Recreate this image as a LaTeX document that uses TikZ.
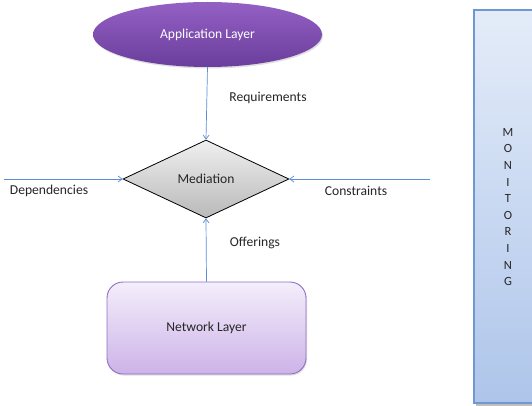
\documentclass[tikz,border=0pt]{standalone}
\usepackage{fontspec}
\setmainfont{Carlito}
\usetikzlibrary{shapes.geometric,arrows.meta,shadows}
\definecolor{linkblue}{HTML}{5B8ED6}
\definecolor{apptop}{HTML}{9460C4}
\definecolor{appbot}{HTML}{6A3E9C}
\definecolor{nettop}{HTML}{F4EEFB}
\definecolor{netbot}{HTML}{CCB3E8}
\definecolor{netline}{HTML}{8F6FC2}
\definecolor{montop}{HTML}{E4ECF9}
\definecolor{monbot}{HTML}{AEC5EA}
\definecolor{monline}{HTML}{6F97D2}
\definecolor{txt}{HTML}{262626}
\tikzset{
  every node/.style={font=\fontsize{13.6}{16}\selectfont, text=txt},
  link/.style={draw=linkblue, line width=0.7pt, -{Straight Barb[length=4pt,width=6pt]}},
  layerapp/.style={ellipse, minimum width=229pt, minimum height=65pt, inner sep=0pt, draw=none,
    top color=apptop, bottom color=appbot, text=white,
    drop shadow={opacity=0.25, shadow xshift=1pt, shadow yshift=-1.5pt}},
  layernet/.style={rectangle, rounded corners=16pt, minimum width=199pt, minimum height=92pt,
    draw=netline, line width=0.9pt, top color=nettop, bottom color=netbot,
    drop shadow={opacity=0.25, shadow xshift=1pt, shadow yshift=-1.5pt}},
  mediator/.style={diamond, minimum width=166pt, minimum height=78pt, aspect=2.13, inner sep=0pt,
    draw=black, line width=0.8pt, top color=gray!12, bottom color=gray!55},
  edgelabel/.style={inner sep=1pt}
}
\begin{document}
\begin{tikzpicture}[x=1pt,y=-1pt]
  \clip (0,0) rectangle (532,406);
  \fill[white] (0,0) rectangle (532,406);

  % monitoring column on the right
  \fill[black!25] (476,12) rectangle (540,406);
  \draw[monline, line width=1.2pt, top color=montop, bottom color=monbot]
    (474,10) rectangle (545,403);
  \node[align=center, font=\fontsize{12.5}{16.6}\selectfont] (mon) at (508,207)
    {M\\O\\N\\I\\T\\O\\R\\I\\N\\G};

  % layers and mediation
  \node[layerapp] (app) at (207.5,34.5) {Application Layer};
  \node[mediator] (med) at (206,179) {};
  \node (medtxt) at (med.center) {Mediation};
  \node[layernet] (net) at (206.5,328) {Network Layer};

  \coordinate (depin) at (4,179);
  \coordinate (conin) at (430,179);

  \draw[link] (app.south) -- (med.north);
  \draw[link] (net.north) -- (med.south);
  \draw[link] (depin) -- (med.west);
  \draw[link] (conin) -- (med.east);

  \node[edgelabel] (req) at (268,98) {Requirements};
  \node[edgelabel] (off) at (255,243) {Offerings};
  \node[edgelabel] (dep) at (49,191) {Dependencies};
  \node[edgelabel] (con) at (356,191) {Constraints};
\end{tikzpicture}
\end{document}
